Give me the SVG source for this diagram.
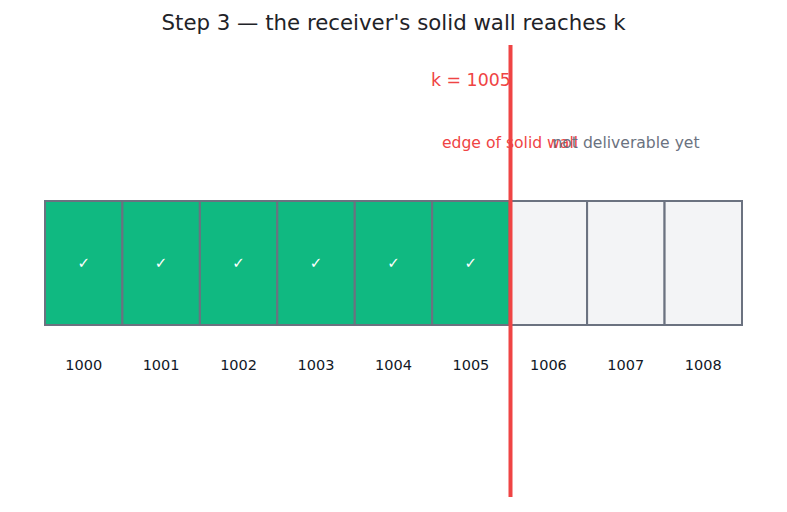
<svg xmlns="http://www.w3.org/2000/svg" width="787" height="512" viewBox="0 0 787 512">
<style>
text{font-family:"DejaVu Sans",sans-serif}
.c{stroke:#6b7280;stroke-width:2}
.g{fill:#10b981}
.e{fill:#f3f4f6}
.ck{fill:#ffffff;font-size:15px;text-anchor:middle}
.lb{fill:#111827;font-size:14.5px;text-anchor:middle}
</style>
<rect width="787" height="512" fill="#ffffff"/>
<text x="393.5" y="30" font-size="21.3" fill="#1f2328" text-anchor="middle">Step 3 — the receiver's solid wall reaches k</text>
<g id="cell-1000"><rect class="c g" x="45" y="201" width="77.4" height="124"/><text class="ck" x="83.7" y="268">✓</text><text class="lb" x="83.7" y="370">1000</text></g>
<g id="cell-1001"><rect class="c g" x="122.4" y="201" width="77.4" height="124"/><text class="ck" x="161.1" y="268">✓</text><text class="lb" x="161.1" y="370">1001</text></g>
<g id="cell-1002"><rect class="c g" x="199.9" y="201" width="77.4" height="124"/><text class="ck" x="238.6" y="268">✓</text><text class="lb" x="238.6" y="370">1002</text></g>
<g id="cell-1003"><rect class="c g" x="277.3" y="201" width="77.4" height="124"/><text class="ck" x="316" y="268">✓</text><text class="lb" x="316" y="370">1003</text></g>
<g id="cell-1004"><rect class="c g" x="354.8" y="201" width="77.4" height="124"/><text class="ck" x="393.5" y="268">✓</text><text class="lb" x="393.5" y="370">1004</text></g>
<g id="cell-1005"><rect class="c g" x="432.2" y="201" width="77.4" height="124"/><text class="ck" x="470.9" y="268">✓</text><text class="lb" x="470.9" y="370">1005</text></g>
<g id="cell-1006"><rect class="c e" x="509.7" y="201" width="77.4" height="124"/><text class="lb" x="548.4" y="370">1006</text></g>
<g id="cell-1007"><rect class="c e" x="587.1" y="201" width="77.4" height="124"/><text class="lb" x="625.8" y="370">1007</text></g>
<g id="cell-1008"><rect class="c e" x="664.6" y="201" width="77.4" height="124"/><text class="lb" x="703.3" y="370">1008</text></g>
<g id="wall">
<line x1="510.5" y1="45" x2="510.5" y2="497" stroke="#ef4444" stroke-width="4"/>
<text x="470.9" y="85.5" font-size="17.4" fill="#ef4444" text-anchor="middle">k = 1005</text>
<text x="510" y="147.5" font-size="15.6" fill="#ef4444" text-anchor="middle">edge of solid wall</text>
<text x="626" y="147.5" font-size="15.6" fill="#6b7280" text-anchor="middle">not deliverable yet</text>
</g>
</svg>
